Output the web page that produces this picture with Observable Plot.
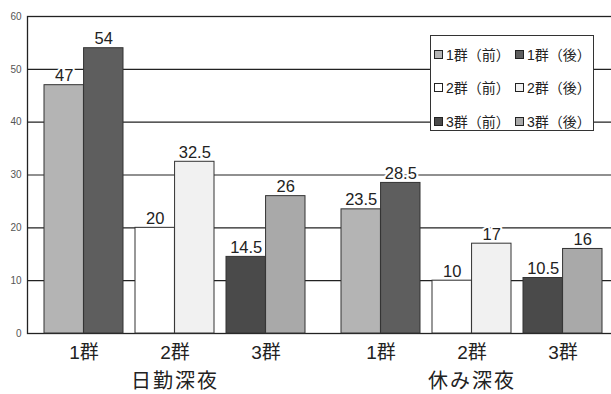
<!DOCTYPE html>
<html><head><meta charset="utf-8">
<script src="https://cdn.jsdelivr.net/npm/d3@7"></script>
<script src="https://cdn.jsdelivr.net/npm/@observablehq/plot@0.6"></script>
<style>
body{margin:0;background:#fff;}
#wrap{position:relative;width:611px;height:394px;overflow:hidden;font-family:"Liberation Sans","Noto Sans CJK JP",sans-serif;}
#wrap svg{position:absolute;left:0;top:0;max-width:none !important;}
#legend{position:absolute;left:430px;top:35px;width:164px;height:96px;border:1px solid #333;background:#fff;box-sizing:border-box;}
.row{position:absolute;left:3px;display:flex;align-items:center;font-size:14px;color:#222;white-space:nowrap;}
.item{display:flex;align-items:center;width:81px;}
.sw{width:7px;height:7px;border:1.5px solid #222;margin-right:3px;flex:none;}
g[aria-label="fx-axis tick label"] text{letter-spacing:2px;}
</style></head>
<body><div id="wrap"><div id="legend"></div></div>
<script>
const groups = ["日勤深夜", "休み深夜"];
const categories = ["1群", "2群", "3群"];
const phases = ["前", "後"];
// values per group × category (order: 1群, 2群, 3群)
const beforeDay = [47, 20, 14.5];
const afterDay = [54, 32.5, 26];
const beforeRest = [23.5, 10, 10.5];
const afterRest = [28.5, 17, 16];
const yTicks = [0, 10, 20, 30, 40, 50, 60];
const gridTicks = [10, 20, 30, 40, 50];
const seriesKeys = ["1群（前）", "1群（後）", "2群（前）", "2群（後）", "3群（前）", "3群（後）"];
const seriesColors = ["#b4b4b4", "#5e5e5e", "#ffffff", "#f1f1f1", "#4a4a4a", "#a9a9a9"];

const rows = [];
const table = [[beforeDay, afterDay], [beforeRest, afterRest]];
groups.forEach((g, gi) => categories.forEach((c, ci) => phases.forEach((p, pi) => {
  rows.push({group: g, cat: c, phase: p, key: `${c}（${p}）`, value: table[gi][pi][ci]});
})));

// layout
const W = 620, H = 394, mL = 27, mR = 0, mT = 16, mB = 61;
const fxPI = 0.0807, fxPO = 0.037, xPI = 0.1319, xPO = 0.0659;
const fxStep = (W - mL - mR) / (groups.length - fxPI + 2 * fxPO);
const facetW = fxStep * (1 - fxPI);
const xStep = facetW / (categories.length - xPI + 2 * xPO);
const half = xStep * (1 - xPI) / 2;
const font = '"Liberation Sans","Noto Sans CJK JP",sans-serif';

const before = rows.filter(d => d.phase === "前");
const after = rows.filter(d => d.phase === "後");

// background layer: frame, gridlines, y axis
const back = Plot.plot({
  width: W, height: H, marginLeft: mL, marginRight: mR, marginTop: mT, marginBottom: mB,
  style: {fontFamily: font, background: "transparent", color: "#222"},
  y: {domain: [0, 60], label: null},
  marks: [
    Plot.ruleY(gridTicks, {stroke: "#222", strokeWidth: 1.2}),
    Plot.frame({stroke: "#222", strokeWidth: 1.3}),
    Plot.axisY({ticks: yTicks, tickSize: 0, tickPadding: 6, fontSize: 10, fill: "#555", label: null, tickFormat: d => String(d)})
  ]
});

const chart = Plot.plot({
  width: W, height: H, marginLeft: mL, marginRight: mR, marginTop: mT, marginBottom: mB,
  style: {fontFamily: font, background: "transparent", color: "#222"},
  fx: {domain: groups, paddingInner: fxPI, paddingOuter: fxPO, label: null},
  x: {domain: categories, paddingInner: xPI, paddingOuter: xPO, label: null},
  y: {domain: [0, 60], label: null, axis: null},
  color: {type: "ordinal", domain: seriesKeys, range: seriesColors},
  marks: [
    Plot.barY(before, {fx: "group", x: "cat", y: "value", fill: "key", stroke: "#333", strokeWidth: 1, insetLeft: 0, insetRight: half}),
    Plot.barY(after, {fx: "group", x: "cat", y: "value", fill: "key", stroke: "#333", strokeWidth: 1, insetLeft: half, insetRight: 0}),
    Plot.text(before, {fx: "group", x: "cat", y: "value", text: d => String(d.value), dx: -half / 2, dy: -4, lineAnchor: "bottom", fontSize: 16.5, fill: "#222", stroke: "white", strokeWidth: 4}),
    Plot.text(after, {fx: "group", x: "cat", y: "value", text: d => String(d.value), dx: half / 2, dy: -4, lineAnchor: "bottom", fontSize: 16.5, fill: "#222", stroke: "white", strokeWidth: 4}),
    Plot.axisX({tickSize: 0, tickPadding: 12, fontSize: 19, fill: "#222", label: null}),
    Plot.axisFx({anchor: "bottom", tickSize: 0, tickPadding: 40, fontSize: 20, fill: "#222", label: null})
  ]
});
const wrap = document.getElementById("wrap");
wrap.prepend(chart);
wrap.prepend(back);

// legend
const legend = document.getElementById("legend");
const rowTops = [8, 41, 75];
for (let r = 0; r < 3; r++) {
  const row = document.createElement("div");
  row.className = "row";
  row.style.top = rowTops[r] + "px";
  for (let c = 0; c < 2; c++) {
    const i = r * 2 + c;
    const item = document.createElement("div");
    item.className = "item";
    const sw = document.createElement("span");
    sw.className = "sw";
    sw.style.background = seriesColors[i];
    const t = document.createElement("span");
    t.textContent = seriesKeys[i];
    item.append(sw, t);
    row.append(item);
  }
  legend.append(row);
}
</script></body></html>
